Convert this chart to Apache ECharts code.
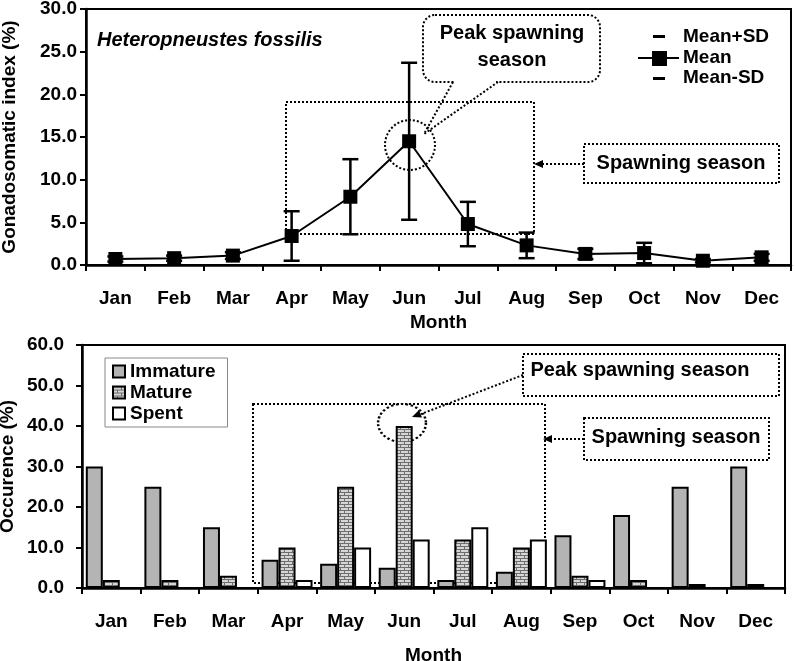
<!DOCTYPE html>
<html>
<head>
<meta charset="utf-8">
<script src="https://cdn.jsdelivr.net/npm/echarts@6/dist/echarts.min.js"></script>
<style>
  html, body { margin: 0; padding: 0; background: #fff; }
  #chart { width: 795px; height: 661px; }
</style>
</head>
<body>
<div id="chart"></div>
<script>
// months on both panels
const months = ['Jan', 'Feb', 'Mar', 'Apr', 'May', 'Jun', 'Jul', 'Aug', 'Sep', 'Oct', 'Nov', 'Dec'];
// GSI (%) mean and SD
const gsiMean = [0.7, 0.8, 1.1, 3.4, 8.0, 14.5, 4.8, 2.3, 1.3, 1.4, 0.5, 0.9];
const gsiSD = [0.3, 0.3, 0.4, 2.9, 4.4, 9.2, 2.6, 1.5, 0.6, 1.2, 0.2, 0.4];
// occurrence (%) of maturity stages, bottom panel
const immature = [30, 25, 15, 7, 6, 5, 2, 4, 13, 18, 25, 30];
const mature = [2, 2, 3, 10, 25, 40, 12, 10, 3, 2, 1, 1];
const spent = [0, 0, 0, 2, 10, 12, 15, 12, 2, 0, 0, 0];

const FONT = '"Liberation Sans", Arial, sans-serif';

// brick fill for "Mature"
function brickPattern() {
  const c = document.createElement('canvas');
  c.width = 8;
  c.height = 6;
  const ctx = c.getContext('2d');
  ctx.fillStyle = '#d6d6d6';
  ctx.fillRect(0, 0, 8, 6);
  ctx.fillStyle = '#6e6e6e';
  ctx.fillRect(0, 0, 8, 1);
  ctx.fillRect(0, 3, 8, 1);
  ctx.fillRect(0, 0, 1, 3);
  ctx.fillRect(4, 3, 1, 3);
  return c;
}

const axisText = { color: '#000', fontFamily: FONT, fontWeight: 'bold', fontSize: 19 };
const dotted = { stroke: '#000', lineWidth: 2, lineDash: [2, 2], fill: null };

function catAxis(gridIndex, margin, nameGap) {
  return {
    type: 'category',
    gridIndex,
    data: months,
    name: 'Month',
    nameLocation: 'middle',
    nameGap,
    nameMoveOverlap: false,
    nameTextStyle: axisText,
    axisLine: { lineStyle: { color: '#000', width: 2.5 } },
    axisTick: { show: true, inside: false, length: 6, interval: 0, lineStyle: { color: '#000', width: 2 } },
    axisLabel: Object.assign({ interval: 0, margin }, axisText),
    splitLine: { show: false },
  };
}

function valAxis(gridIndex, max, interval, name, margin, nameGap) {
  return {
    type: 'value',
    gridIndex,
    min: 0,
    max,
    interval,
    name,
    nameLocation: 'middle',
    nameGap,
    nameMoveOverlap: false,
    nameTextStyle: axisText,
    axisLine: { show: true, lineStyle: { color: '#000', width: 2.5 } },
    axisTick: { show: true, length: 6, lineStyle: { color: '#000', width: 2 } },
    axisLabel: Object.assign({ margin, formatter: (v) => v.toFixed(1) }, axisText),
    splitLine: { show: false },
  };
}

// half error bar (mean -> mean +/- SD) with a cap
function errorBar(params, api) {
  const p0 = api.coord([api.value(0), api.value(1)]);
  const p1 = api.coord([api.value(0), api.value(2)]);
  const style = { stroke: '#000', lineWidth: 2.5 };
  return {
    type: 'group',
    children: [
      { type: 'line', shape: { x1: p0[0], y1: p0[1], x2: p1[0], y2: p1[1] }, style },
      { type: 'line', shape: { x1: p1[0] - 8, y1: p1[1], x2: p1[0] + 8, y2: p1[1] }, style },
    ],
  };
}

const barCommon = {
  type: 'bar',
  xAxisIndex: 1,
  yAxisIndex: 1,
  barGap: '0%',
  barCategoryGap: '13%',
};

const chart = echarts.init(document.getElementById('chart'));

const option = {
  backgroundColor: '#fff',
  animation: false,
  grid: [
    { left: 86, right: 4, top: 9, height: 256, containLabel: false, outerBoundsMode: 'none', show: true, borderColor: '#000', borderWidth: 2 },
    { left: 82, right: 10, top: 345, height: 243, containLabel: false, outerBoundsMode: 'none', show: true, borderColor: '#000', borderWidth: 2 },
  ],
  xAxis: [catAxis(0, 24, 48), catAxis(1, 24, 58)],
  yAxis: [
    valAxis(0, 30, 5, 'Gonadosomatic index (%)', 9, 67),
    valAxis(1, 60, 10, 'Occurence (%)', 18, 65),
  ],
  legend: {
    data: ['Immature', 'Mature', 'Spent'],
    orient: 'vertical',
    left: 105,
    top: 358,
    padding: [4, 12, 4, 7],
    itemGap: 2,
    itemWidth: 12,
    itemHeight: 12,
    icon: 'rect',
    borderColor: '#888',
    borderWidth: 1,
    backgroundColor: '#fff',
    itemStyle: { borderColor: '#000', borderWidth: 2 },
    textStyle: { color: '#000', fontFamily: FONT, fontWeight: 'bold', fontSize: 19 },
  },
  series: [
    {
      name: 'Mean+SD',
      type: 'custom',
      xAxisIndex: 0,
      yAxisIndex: 0,
      renderItem: errorBar,
      data: months.map((m, i) => [i, gsiMean[i], gsiMean[i] + gsiSD[i]]),
      z: 2,
    },
    {
      name: 'Mean-SD',
      type: 'custom',
      xAxisIndex: 0,
      yAxisIndex: 0,
      renderItem: errorBar,
      data: months.map((m, i) => [i, gsiMean[i], Math.max(0, gsiMean[i] - gsiSD[i])]),
      z: 2,
    },
    {
      name: 'Mean',
      type: 'line',
      xAxisIndex: 0,
      yAxisIndex: 0,
      data: gsiMean,
      symbol: 'rect',
      symbolSize: 14,
      itemStyle: { color: '#000' },
      lineStyle: { color: '#000', width: 2 },
      z: 3,
    },
    Object.assign({}, barCommon, {
      name: 'Immature',
      data: immature,
      itemStyle: { color: '#b4b4b4', borderColor: '#000', borderWidth: 2 },
    }),
    Object.assign({}, barCommon, {
      name: 'Mature',
      data: mature,
      itemStyle: { color: { image: brickPattern(), repeat: 'repeat' }, borderColor: '#000', borderWidth: 2 },
    }),
    Object.assign({}, barCommon, {
      name: 'Spent',
      data: spent,
      itemStyle: { color: '#fff', borderColor: '#000', borderWidth: 2 },
    }),
  ],
  graphic: [
    // top panel
    { type: 'text', left: 97, top: 30, style: { text: 'Heteropneustes fossilis', fill: '#000', font: 'italic bold 20px ' + FONT } },
    // legend of top panel
    { type: 'rect', shape: { x: 653, y: 35, width: 12, height: 3 }, style: { fill: '#000' } },
    { type: 'line', shape: { x1: 638, y1: 58, x2: 679, y2: 58 }, style: { stroke: '#000', lineWidth: 2 } },
    { type: 'rect', shape: { x: 652, y: 51, width: 15, height: 15 }, style: { fill: '#000' } },
    { type: 'rect', shape: { x: 653, y: 77, width: 12, height: 3 }, style: { fill: '#000' } },
    { type: 'text', left: 683, top: 27, style: { text: 'Mean+SD', fill: '#000', font: 'bold 19px ' + FONT } },
    { type: 'text', left: 683, top: 48, style: { text: 'Mean', fill: '#000', font: 'bold 19px ' + FONT } },
    { type: 'text', left: 683, top: 68, style: { text: 'Mean-SD', fill: '#000', font: 'bold 19px ' + FONT } },
    // spawning season box
    { type: 'rect', shape: { x: 286, y: 102, width: 248, height: 132 }, style: dotted, z: 1 },
    { type: 'circle', shape: { cx: 410, cy: 145, r: 25 }, style: dotted, z: 1 },
    // peak callout
    { type: 'rect', shape: { x: 423, y: 15, width: 177, height: 67, r: 12 }, style: Object.assign({}, dotted, { fill: '#fff' }) },
    { type: 'line', shape: { x1: 455, y1: 82, x2: 496, y2: 82 }, style: { stroke: '#fff', lineWidth: 4 } },
    { type: 'polyline', shape: { points: [[453, 82], [424, 134], [498, 82]] }, style: dotted },
    { type: 'text', x: 512, y: 33, style: { text: 'Peak spawning', fill: '#000', font: 'bold 20px ' + FONT, align: 'center', verticalAlign: 'middle' } },
    { type: 'text', x: 512, y: 60, style: { text: 'season', fill: '#000', font: 'bold 20px ' + FONT, align: 'center', verticalAlign: 'middle' } },
    // spawning season label
    { type: 'rect', shape: { x: 584, y: 144, width: 195, height: 39 }, style: dotted },
    { type: 'text', x: 681, y: 163, style: { text: 'Spawning season', fill: '#000', font: 'bold 20px ' + FONT, align: 'center', verticalAlign: 'middle' } },
    { type: 'line', shape: { x1: 584, y1: 164, x2: 541, y2: 164 }, style: dotted },
    { type: 'polygon', shape: { points: [[534, 164], [543, 160], [543, 168]] }, style: { fill: '#000' } },

    // bottom panel
    { type: 'rect', shape: { x: 253, y: 404, width: 292, height: 179 }, style: dotted, z: 1 },
    { type: 'circle', x: 402, y: 423, scaleX: 1.26, shape: { cx: 0, cy: 0, r: 19 }, style: dotted, z: 1 },
    { type: 'rect', shape: { x: 523, y: 354, width: 256, height: 42 }, style: dotted },
    { type: 'text', x: 640, y: 370, style: { text: 'Peak spawning season', fill: '#000', font: 'bold 20px ' + FONT, align: 'center', verticalAlign: 'middle' } },
    { type: 'line', shape: { x1: 523, y1: 375, x2: 421, y2: 414 }, style: dotted },
    { type: 'polygon', shape: { points: [[412, 417], [422, 417.5], [419, 410]] }, style: { fill: '#000' } },
    { type: 'rect', shape: { x: 584, y: 418, width: 185, height: 42 }, style: dotted },
    { type: 'text', x: 676, y: 437, style: { text: 'Spawning season', fill: '#000', font: 'bold 20px ' + FONT, align: 'center', verticalAlign: 'middle' } },
    { type: 'line', shape: { x1: 584, y1: 439, x2: 550, y2: 439 }, style: dotted },
    { type: 'polygon', shape: { points: [[543, 439], [552, 435], [552, 443]] }, style: { fill: '#000' } },
  ],
};

chart.setOption(option);
</script>
</body>
</html>
